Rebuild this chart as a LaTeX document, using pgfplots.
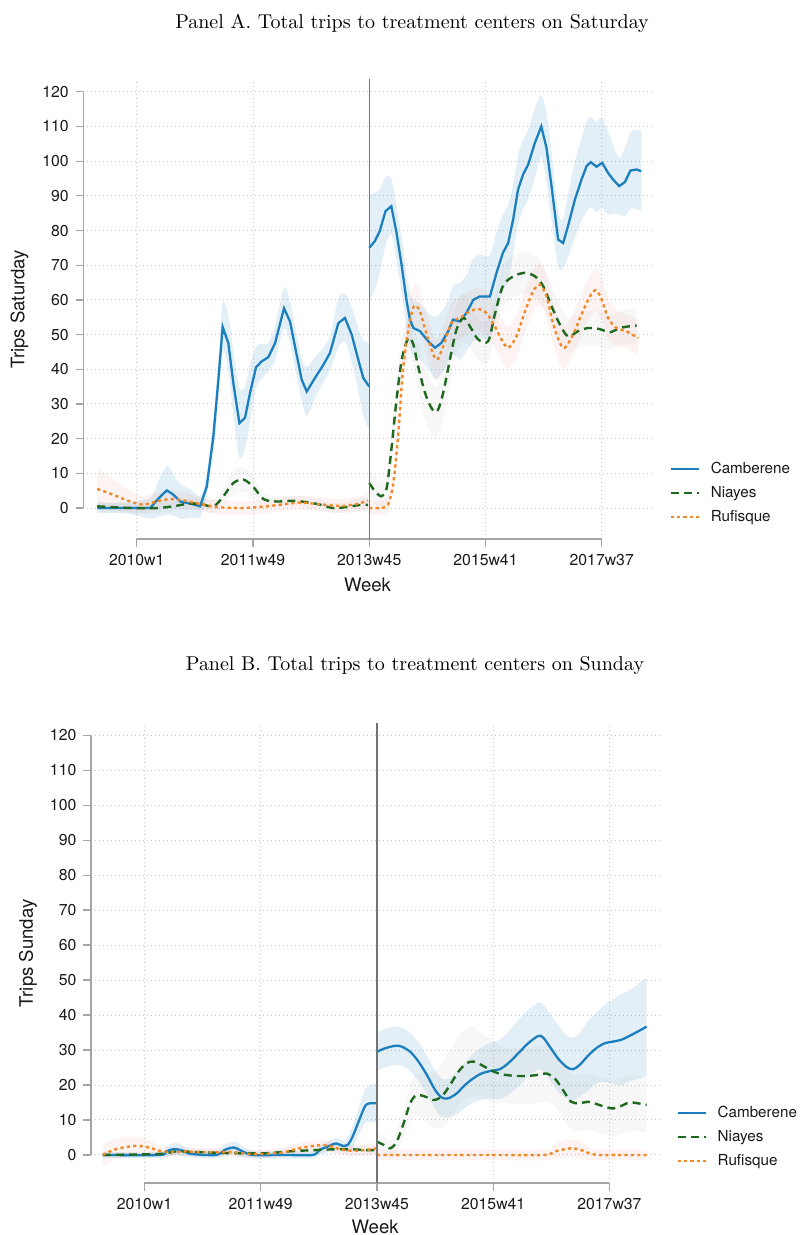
\documentclass[border=0pt]{standalone}
\usepackage{pgfplots}
\pgfplotsset{compat=1.18}
\usepackage{pgfplotstable}
\usepgfplotslibrary{fillbetween}
\usepackage{fontspec}
\newfontfamily\hel{TeX Gyre Heros}

\definecolor{cblue}{RGB}{27,127,190}
\definecolor{cgreen}{RGB}{30,105,30}
\definecolor{corange}{RGB}{243,137,38}
\definecolor{bandgray}{RGB}{150,150,150}
\definecolor{bandpink}{RGB}{230,150,140}
\definecolor{tickgray}{RGB}{165,165,165}
\definecolor{gridgray}{RGB}{200,200,200}
\definecolor{vgray}{RGB}{115,115,115}
\definecolor{txt}{RGB}{25,25,25}

% ---------------- Panel A data ----------------
\pgfplotstableread{
x y e
-34 0 1.5
-10 0 1.5
11.5 0 3
18 2.5 5
25.8 5.1 7
31 4 6
37.3 1.9 5
47.3 1.2 4
54.5 0.5 3
60.2 6.2 3
65.9 20.7 5
70.2 37 6
73.9 52.2 7
78.8 47.5 8
83.1 36 9
88.3 24.5 10
93.1 26 9
97.4 33.1 8
102.6 40.6 6
107.5 42.3 5
113.2 43.5 4
118.9 47.5 5
126.7 57.6 6
131.8 53.8 6
136.1 46.6 6
141.9 37 6
146.2 33.6 7
153.3 37.5 6
160.5 41.3 5
166.2 44.7 5
173.4 53.3 7
179.1 54.8 7
184.9 50 8
190.6 42.7 9
194.9 37.5 11
200 35 12.5
}\AcamPre
\pgfplotstableread{
x y e
200 75 15
204.9 77 14
209 79.8 12
214 85.6 10
219 87 8
223.5 79.3 8
228 69.7 8
232 60 8
235 54.3 8
238 51.9 8
243.6 51 8
250.8 48.1 8
256.5 46.2 9
262 47.6 9
268 51 9
272 54.3 10
278 53.8 11
283.7 56.3 11
289.5 60 12
295 61 12
303.8 61 12
309.5 67.8 12
315 73.6 11
319.5 76.4 11
323.8 83.2 10
328 91.8 10
332.4 96.2 10
336.7 99 10
342.5 105.3 10
348 110 9
352.5 103.8 10
356.8 92.8 10
362.5 77.4 8
366.8 76.4 7
371 81.3 9
377 89 11
382.6 94.7 12
387 98.6 13
390.6 99.7 13
395.5 98.4 13
400.4 99.5 13
405.5 96.6 12
409.8 94.7 10
415 92.8 8
420 94 10
424.7 97.3 11
430 97.6 11.5
434 97.1 11.5
}\AcamPost
\pgfplotstableread{
x y e
-34 0.5 1.5
-3 0 1.5
17 0 1.5
31.5 0.5 1.5
43 1.2 1.5
54.5 1.2 1.5
66 0.5 2
74.5 3.4 2.5
83 7.2 3.5
91.7 8.2 3.5
100 6.2 3
109 2.6 2
120 1.9 1.5
134.7 2.1 1.5
146 1.7 1.5
157.6 1 1.5
169 0 1.5
180.5 0.3 1.5
192 0.9 2
199 0.9 2
}\AniaPre
\pgfplotstableread{
x y e
200 7.2 4
205 4.8 4
210.6 3.4 4
215 5.8 4
219 16.8 5
223.5 31.3 6
228 42.8 6
233.6 49 6
238 47.1 6.5
242 40.9 7
248 33.2 7.5
253.6 28.8 7.5
258.5 27.9 7.5
263.6 33.2 7.5
269.4 42.8 7
275 51.4 7
281 54.8 7
286.6 52.4 6
293.7 48.6 6
302.3 48.1 6
308 55.8 6
315 64 6
324 66.8 6
334 67.8 6
342.5 66.8 6
349.6 64 6
356.8 58.2 6
364 52.9 6
371 49.5 5
379.7 51 5
388.3 51.9 5
398 51.6 5
407 50.7 5
415.6 51.9 5
424 52.4 5
430 52.6 5
}\AniaPost
\pgfplotstableread{
x y e
-34 5.5 6
-20 3.8 4.5
-5.7 1.9 3
5.7 1 2.5
17 1.9 2.5
28.7 2.6 2.5
40 2.2 2.5
54.5 1.2 2
68.8 0.3 2
89 0 2
111.8 0.5 2
129 1.2 2
140.4 1.6 2
154.8 1.2 2
169 0.7 2
180.5 0.7 2
192 1.4 2
199 2.2 2.5
}\ArufPre
\pgfplotstableread{
x y e
200 0 2
209 0 2
216 1 2.5
220.7 7.2 3
225 21.6 4
229 39.9 5
233.6 51.4 6
238.4 58.2 6
243.6 56.7 6
249 50.5 6
257.3 42.8 6
263.6 46.6 6
270.8 53.4 6
278 54.8 6
286.6 56.7 6
293.7 57.4 6
301 56.2 6
308 52.4 6
313.8 48.6 6
319.5 46.2 6
326.7 49.5 6
334 56.7 6
341 62.5 6
346.8 64.4 6
352.5 61 6
358 53.4 6
364 47.6 6
368.3 46.2 6
375.4 50 6
382.6 55.8 6
389.8 61 6
395 62.8 6
400 60.1 6
405.5 54.8 6
412.7 51.9 5
421 51 5
431.5 49 5
}\ArufPost

% ---------------- Panel B data ----------------
\pgfplotstableread{
x y e
-36 0 0.8
13 0 0.8
18.6 1 1.5
25.8 1.7 1.8
33 1.2 1.5
40 0.3 1
61.6 0 1
70 1.6 1.5
77.4 2.1 1.8
84.5 1 1.5
93 0 1
119 0 1
144.7 0 1
150.4 1.4 1.2
157.6 2.4 1.5
164.8 3.3 1.5
170.5 2.6 1.5
174.8 2.9 2
179 5.2 3
184.8 10 4
190.5 14.3 5
197.7 14.8 5.5
200 14.8 5.7
}\BcamPre
\pgfplotstableread{
x y e
200 29.5 5.5
207 30.5 5.5
215.7 31.2 5.5
221 31 5.5
228.6 29.5 5.5
235.7 26.7 5.5
242.9 22.9 5.5
250 18.6 5.5
255.7 16.4 5.5
261.4 16.2 5.5
268.6 17.6 6
275.7 20 6.5
282.9 21.9 7
290 23.3 7.5
298.6 24.1 8
305.7 24.5 8.5
312.9 26.2 9
321.4 29 9.5
330 31.9 9.5
338.6 34 9.5
342.9 33.6 9.5
348.6 31 9.5
355.7 27.6 9.5
362.9 25.2 9
368.6 24.5 9
374.3 25.7 9
381.4 28.3 10
388.6 30.5 10
395.7 31.9 11
402.9 32.4 12
410 32.9 13
417 34 13
424 35.2 13.5
432 36.7 14
}\BcamPost
\pgfplotstableread{
x y e
-36 0 0.8
13 0.3 0.8
27 1 1
47 0.8 1
76 0.5 1
104.6 0.5 1
127.5 1.1 1.2
147.6 1.4 1.2
162 1.6 1.2
179 1.6 1.5
190.5 1.4 1.5
199 1.4 1.5
}\BniaPre
\pgfplotstableread{
x y e
200 3.8 2.5
205.7 2.9 2.5
211.4 1.9 2.5
217 3.8 3
222.9 9 4
228.6 14.8 5
234 17.1 6
241.4 16.7 7
248.6 15.7 8
255.7 16.7 9
262.9 20 10
270 23.8 10
277 26.2 10
282.9 26.7 10
290 25.7 9
298.6 24.1 9
307 23.1 8
318.6 22.6 8
330 22.6 8
338.6 22.9 8
345.7 23.3 8
352.9 21.9 8
360 18.6 8
367 15.2 8
374.3 14.8 8
381.4 15.2 8
388.6 14.6 8
395.7 13.8 8
402.9 13.3 8
410 14 8
417 15 8
424 14.8 8
432 14.3 8
}\BniaPost
\pgfplotstableread{
x y e
-36 0 3
-27 1.4 3
-18.6 2.1 3
-7 2.6 2.5
4.3 2.1 2
13 1.2 1.5
24 0.8 1.2
36 1 1.2
47 0.8 1.2
61.6 0.8 1.2
76 0.8 1.2
90 0.3 1.2
104.6 0.3 1.2
119 0.7 1.2
133 1.9 1.5
147.6 2.7 1.5
157.6 2.7 1.5
167.6 1.7 1.5
179 1.2 1.5
190.5 1.4 1.5
199 1.9 1.5
}\BrufPre
\pgfplotstableread{
x y e
200 0 1.5
250 0 1.5
300 0 1.5
344 0 1.5
353 1 2
361 1.6 2.5
367 1.9 2.5
374 1.6 2.5
381 0.7 2
390 0 1.5
410 0 1.5
432 0 1.5
}\BrufPost

\newcommand{\band}[4]{%
  \addplot[draw=none, name path=#3u, forget plot, smooth] table[x=x, y expr=\thisrow{y}+\thisrow{e}] {#1};
  \addplot[draw=none, name path=#3l, forget plot, smooth] table[x=x, y expr=\thisrow{y}-\thisrow{e}] {#1};
  \addplot[fill=#2, fill opacity=#4, draw=none, forget plot] fill between[of=#3u and #3l];
}

\pgfplotsset{
  stata/.style={
    scale only axis, width=284.2pt, height=230pt,
    xmin=-46, xmax=443,
    xtick={0,100,200,300,400},
    xticklabels={2010w1,2011w49,2013w45,2015w41,2017w37},
    ytick={0,10,...,120},
    xtick pos=bottom, ytick pos=left, tick align=outside,
    major tick length=3.8pt,
    tick style={color=tickgray, line width=0.6pt},
    axis line style={draw=none},
    xmajorgrids, ymajorgrids,
    major grid style={color=gridgray, line width=0.5pt, dash pattern=on 0.5pt off 1.5pt},
    tick label style={font=\hel\fontsize{7.9}{9}\selectfont, text=txt},
    /pgf/number format/assume math mode=true,
    clip=false,
    legend cell align=left,
    legend style={draw=none, fill=none, inner sep=0pt, anchor=west,
      font=\hel\fontsize{7.6}{9}\selectfont, text=txt, row sep=4.4pt,
      nodes={inner sep=0pt, text height=6pt, text depth=1.6pt},
      /tikz/every odd column/.append style={column sep=5.5pt}},
    legend image code/.code={\draw[##1] (0pt,0pt) -- (14pt,0pt);},
  },
  camst/.style={cblue, line width=1.15pt},
  niast/.style={cgreen, line width=1.2pt, dash pattern=on 4pt off 2.6pt, smooth},
  rufst/.style={corange, line width=1.2pt, dash pattern=on 1.6pt off 1.6pt, smooth},
}

\begin{document}
\begin{tikzpicture}

\node[font=\fontsize{10}{12}\selectfont] at (206pt,606pt) {Panel A. Total trips to treatment centers on Saturday};
\node[font=\fontsize{10}{12}\selectfont] at (207.5pt,284.5pt) {Panel B. Total trips to treatment centers on Sunday};

% ---------------- Panel A ----------------
\begin{axis}[stata, at={(41.65pt,347.85pt)}, anchor=south west,
  ymin=-9, ymax=123.6,
  xlabel={Week}, ylabel={Trips Saturday},
  every axis x label/.style={at={(axis description cs:0.5,-0.0983)}, anchor=center, font=\hel\fontsize{9.3}{11}\selectfont, text=txt},
  every axis y label/.style={at={(axis description cs:-0.1122,0.5)}, rotate=90, anchor=center, font=\hel\fontsize{9.3}{11}\selectfont, text=txt},
  legend style={at={(axis description cs:1.0304,0.1007)}},
]
\band{\AcamPre}{cblue}{acpre}{0.12}
\band{\AcamPost}{cblue}{acpost}{0.12}
\band{\AniaPre}{bandgray}{anpre}{0.08}
\band{\AniaPost}{bandgray}{anpost}{0.08}
\band{\ArufPre}{bandpink}{arpre}{0.11}
\band{\ArufPost}{bandpink}{arpost}{0.11}

\addplot[camst] table[x=x,y=y] {\AcamPre}; \addlegendentry{Camberene}
\addplot[niast] table[x=x,y=y] {\AniaPre}; \addlegendentry{Niayes}
\addplot[rufst] table[x=x,y=y] {\ArufPre}; \addlegendentry{Rufisque}
\addplot[camst, forget plot] table[x=x,y=y] {\AcamPost};
\addplot[niast, forget plot] table[x=x,y=y] {\AniaPost};
\addplot[rufst, forget plot] table[x=x,y=y] {\ArufPost};

\draw[tickgray, line width=0.8pt] (axis cs:0,-9) -- (axis cs:400,-9);
\draw[tickgray, line width=0.8pt] (axis cs:-46,0) -- (axis cs:-46,120);
\draw[vgray, line width=0.7pt] (axis cs:200,-9) -- (axis cs:200,123.6);
\end{axis}

% ---------------- Panel B ----------------
\begin{axis}[stata, at={(45.5pt,25.85pt)}, anchor=south west,
  ymin=-8.1, ymax=123.4,
  xlabel={Week}, ylabel={Trips Sunday},
  every axis x label/.style={at={(axis description cs:0.5,-0.0952)}, anchor=center, font=\hel\fontsize{9.3}{11}\selectfont, text=txt},
  every axis y label/.style={at={(axis description cs:-0.1108,0.5)}, rotate=90, anchor=center, font=\hel\fontsize{9.3}{11}\selectfont, text=txt},
  legend style={at={(axis description cs:1.029,0.1006)}},
]
\band{\BcamPre}{cblue}{bcpre}{0.12}
\band{\BcamPost}{cblue}{bcpost}{0.12}
\band{\BniaPre}{bandgray}{bnpre}{0.08}
\band{\BniaPost}{bandgray}{bnpost}{0.08}
\band{\BrufPre}{bandpink}{brpre}{0.11}
\band{\BrufPost}{bandpink}{brpost}{0.11}

\addplot[camst, smooth] table[x=x,y=y] {\BcamPre}; \addlegendentry{Camberene}
\addplot[niast] table[x=x,y=y] {\BniaPre}; \addlegendentry{Niayes}
\addplot[rufst] table[x=x,y=y] {\BrufPre}; \addlegendentry{Rufisque}
\addplot[camst, smooth, forget plot] table[x=x,y=y] {\BcamPost};
\addplot[niast, forget plot] table[x=x,y=y] {\BniaPost};
\addplot[rufst, forget plot] table[x=x,y=y] {\BrufPost};

\draw[tickgray, line width=0.8pt] (axis cs:0,-8.1) -- (axis cs:400,-8.1);
\draw[tickgray, line width=0.8pt] (axis cs:-46,0) -- (axis cs:-46,120);
\draw[vgray, line width=0.7pt] (axis cs:200,-8.1) -- (axis cs:200,123.4);
\end{axis}

\pgfresetboundingbox
\path[use as bounding box] (0,0) rectangle (400pt,617.5pt);
\end{tikzpicture}
\end{document}
